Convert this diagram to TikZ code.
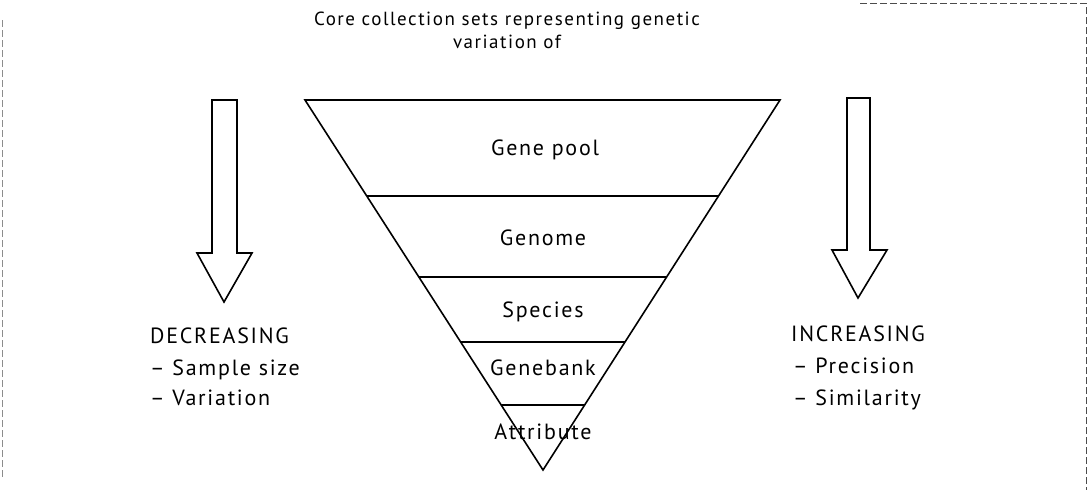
\documentclass[tikz,border=0pt]{standalone}
\usepackage{fontspec}
\setmainfont{PT Sans}
\newfontfamily\figfont[LetterSpace=8]{PT Sans}
\newfontfamily\headfont[LetterSpace=8]{PT Sans}
\usetikzlibrary{calc}
\begin{document}
\begin{tikzpicture}[x=1pt,y=-1pt,
  outline/.style={draw=black,line width=1.6pt,line join=miter},
  levtext/.style={font=\figfont\fontsize{22}{26}\selectfont,inner sep=0pt},
  sidetext/.style={font=\figfont\fontsize{22}{26}\selectfont,inner sep=0pt,anchor=base west},
  edge/.style={draw=black!45,line width=0.8pt,dash pattern=on 7pt off 3pt}]
\useasboundingbox (0,0) rectangle (1089,496);

% faint page edges
\draw[edge] (2,20) -- (2,480);
\draw[edge,draw=black!70] (860,3) -- (1086,3) -- (1086,490);

% title (two lines)
\node[font=\headfont\fontsize{19}{23}\selectfont,align=center,inner sep=0pt,anchor=base] (title) at (507,48)
  {Core collection sets representing genetic\\variation of};

% inverted triangle with its levels
\coordinate (tl) at (305,100);
\coordinate (tr) at (780,100);
\coordinate (apex) at (543,470);
\draw[outline] (tl) -- (tr) -- (apex) -- cycle;
\foreach \t/\n in {0.2595/a,0.478/b,0.654/c,0.824/d}{
  \coordinate (l\n) at ($(tl)!\t!(apex)$);
  \coordinate (r\n) at ($(tr)!\t!(apex)$);
  \draw[outline] (l\n) -- (r\n);
}
\node[levtext] (genepool)  at (545,150) {Gene pool};
\node[levtext] (genome)    at (543,238) {Genome};
\node[levtext] (species)   at (543,312) {Species};
\node[levtext] (genebank)  at (543,368) {Genebank};
\node[levtext] (attribute) at (543,432) {Attribute};

% block arrows
\draw[outline] (212,100) -- (237,100) -- (237,253) -- (252,253) -- (224,302)
  -- (197,253) -- (212,253) -- cycle;
\draw[outline] (847,98) -- (870,98) -- (870,250) -- (887,250) -- (858,298)
  -- (832,250) -- (847,250) -- cycle;

% side captions
\node[sidetext] (dec)  at (150,343) {DECREASING};
\node[sidetext] (dec1) at (150,375) {– Sample size};
\node[sidetext] (dec2) at (150,405) {– Variation};
\node[sidetext] (inc)  at (791,341) {INCREASING};
\node[sidetext] (inc1) at (793,373) {– Precision};
\node[sidetext] (inc2) at (793,405) {– Similarity};
\end{tikzpicture}
\end{document}
